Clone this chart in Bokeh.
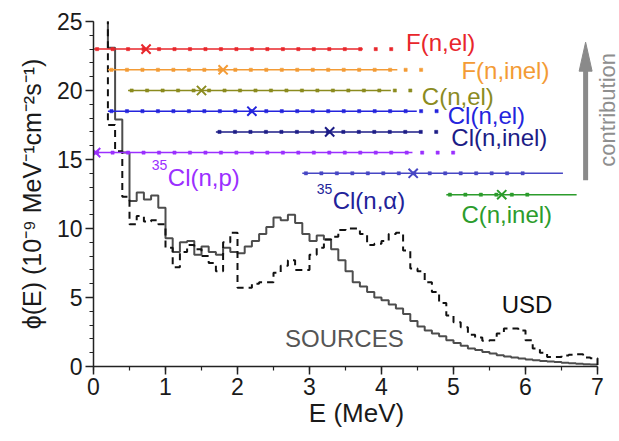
import numpy as np
from math import pi
from bokeh.plotting import figure
from bokeh.models import Range1d, Label, SingleIntervalTicker
from bokeh.embed import file_html
from bokeh.resources import INLINE

# ---------------- data ----------------
# histogram bins of 0.1 MeV, left edges 0.1 ... 6.9 (the 0.1-0.2 bin is off scale)
bin_low_edges = np.round(np.arange(0.1, 7.0, 0.1), 1)
bin_top_edge = 7.0

sources_flux = [30.0,
    23.1, 17.9, 15.5, 12.0, 12.6, 12.1, 12.4, 11.5,
    9.3, 8.3, 9.0, 9.1, 8.1, 8.7, 8.3, 8.1, 8.6, 8.3,
    8.2, 8.7, 9.1, 9.6, 10.1, 10.8, 10.6, 11.0, 10.4, 9.6,
    9.1, 9.5, 9.2, 8.5, 7.7, 6.9, 6.1, 5.8, 5.4, 5.0,
    4.8, 4.5, 4.2, 3.8, 3.3, 2.9, 2.6, 2.4, 2.2, 1.9,
    1.7, 1.5, 1.3, 1.2, 1.05, 0.95, 0.82, 0.72, 0.65, 0.58,
    0.5, 0.45, 0.4, 0.36, 0.32, 0.28, 0.24, 0.2, 0.17, 0.14]

usd_flux = [30.0,
    17.5, 15.6, 12.3, 10.3, 10.9, 10.5, 10.6, 10.3,
    8.6, 7.2, 8.3, 8.8, 8.5, 8.0, 7.5, 6.9, 9.0, 9.7,
    5.7, 5.7, 6.0, 6.1, 6.1, 6.8, 7.3, 7.7, 7.0, 7.0,
    8.1, 8.6, 9.2, 9.4, 9.9, 10.0, 10.0, 9.6, 8.8, 8.9,
    9.1, 9.6, 9.7, 8.4, 7.1, 6.9, 6.1, 5.4, 4.6, 3.7,
    3.2, 2.85, 2.3, 2.1, 1.86, 1.9, 2.4, 2.75, 2.75, 2.6,
    1.9, 1.3, 1.0, 0.68, 0.68, 0.8, 0.85, 0.88, 0.65, 0.6]
usd_end_value = 0.0

# reaction energy ranges (MeV): level, line start, line end, dotted end, mean energy
reaction_names  = ["F(n,el)", "F(n,inel)", "C(n,el)", "Cl(n,el)", "Cl(n,inel)",
                   "35Cl(n,p)", "35Cl(n,α)", "C(n,inel)"]
reaction_level  = [23.0, 21.5, 20.0, 18.5, 17.0, 15.5, 14.0, 12.45]
reaction_start  = [0.0, 0.2, 0.48, 0.2, 1.7, 0.0, 2.9, 4.9]
reaction_end    = [3.74, 4.22, 4.13, 4.49, 4.56, 4.43, 6.52, 6.71]
reaction_dotted = [4.24, 4.56, 4.42, 4.78, 4.78, 5.02, 5.97, 6.22]
reaction_mean   = [0.73, 1.8, 1.5, 2.2, 3.28, 0.03, 4.44, 5.67]

# ---------------- styles ----------------
reaction_colors = ["#e8262b", "#f39b35", "#8b8b1f", "#2424dd", "#1c1c86",
                   "#9b30ff", "#4747c4", "#2c9c2c"]
label_colors    = ["#e8262b", "#f39b35", "#8b8b1f", "#2424dd", "#1c1c86",
                   "#9b30ff", "#222299", "#2c9c2c"]
FONT = "Liberation Sans"

X_MAX = 7.0
X_VIEW_END = 7.0 + 22.0 / 72.0   # extra room at the right for the arrow annotation

p = figure(width=619, height=441, x_range=Range1d(0, X_VIEW_END), y_range=Range1d(0, 25),
           output_backend="svg", toolbar_location=None,
           min_border_left=93, min_border_right=0, min_border_top=21, min_border_bottom=75)
p.outline_line_color = None
p.xgrid.visible = False
p.ygrid.visible = False
p.background_fill_color = "white"

for ax in (p.xaxis[0], p.yaxis[0]):
    ax.axis_line_width = 1.5
    ax.axis_line_color = "#222222"
    ax.major_tick_line_color = "#222222"
    ax.minor_tick_line_color = "#222222"
    ax.major_tick_line_width = 1.5
    ax.minor_tick_line_width = 1.2
    ax.major_tick_in = 0
    ax.major_tick_out = 8
    ax.minor_tick_in = 0
    ax.minor_tick_out = 4
    ax.major_label_text_font = FONT
    ax.major_label_text_font_size = "23px"
    ax.major_label_text_color = "#1a1a1a"
    ax.axis_label_text_font = FONT
    ax.axis_label_text_font_style = "normal"
    ax.axis_label_text_color = "#1a1a1a"

p.xaxis.bounds = (0, X_MAX)
p.xaxis.ticker = SingleIntervalTicker(interval=1, num_minor_ticks=2)
p.yaxis.ticker = SingleIntervalTicker(interval=5, num_minor_ticks=5)
p.xaxis.axis_label = "E (MeV)"
p.xaxis.axis_label_text_font_size = "26px"
p.xaxis.axis_label_standoff = 0
p.xaxis.major_label_standoff = 3
p.yaxis.axis_label = "ϕ(E) (10⁻⁹ MeV⁻¹cm⁻²s⁻¹)"
p.yaxis.axis_label_text_font_size = "25px"
p.yaxis.axis_label_standoff = 8
p.yaxis.major_label_standoff = 3

# ---- spectra (histograms) ----
edges = list(bin_low_edges) + [bin_top_edge]
p.step(edges, sources_flux + [sources_flux[-1]], mode="after",
       line_color="#4d4d4d", line_width=2)
p.step(edges, usd_flux + [usd_end_value], mode="after",
       line_color="#111111", line_width=2, line_dash="7 5")

# ---- reaction energy ranges ----
DOT_STEP = 0.215
for i in range(len(reaction_names)):
    c = reaction_colors[i]
    lv = reaction_level[i]
    p.line([reaction_start[i], reaction_end[i]], [lv, lv], line_color=c, line_width=1.5)
    dx = np.arange(reaction_start[i] + 0.05, reaction_dotted[i] + 0.01, DOT_STEP)
    p.scatter(dx, [lv] * len(dx), marker="square", size=3.2, fill_color=c, line_color=c,
              line_width=0.5)
    p.scatter([reaction_mean[i]], [lv], marker="x", size=13, line_color=c, line_width=2)

# ---- reaction labels ----
label_pos = {  # left x (MeV), middle y
    "F(n,el)": (4.34, 23.5),
    "F(n,inel)": (5.11, 21.43),
    "C(n,el)": (4.56, 19.6),
    "Cl(n,el)": (4.92, 18.17),
    "Cl(n,inel)": (4.97, 16.6),
    "35Cl(n,p)": (0.81, 13.7),
    "35Cl(n,α)": (3.1, 12.0),
    "C(n,inel)": (5.11, 11.04),
}
for i, name in enumerate(reaction_names):
    x, y = label_pos[name]
    col = label_colors[i]
    if name.startswith("35"):
        p.add_layout(Label(x=x, y=y, y_offset=12, text="35", text_font=FONT,
                           text_font_size="14px", text_color=col,
                           text_align="left", text_baseline="middle"))
        p.add_layout(Label(x=x, y=y, x_offset=16, text=name[2:], text_font=FONT,
                           text_font_size="24px", text_color=col,
                           text_align="left", text_baseline="middle"))
    else:
        p.add_layout(Label(x=x, y=y, text=name, text_font=FONT, text_font_size="24px",
                           text_color=col, text_align="left", text_baseline="middle"))

p.add_layout(Label(x=2.66, y=2.0, text="SOURCES", text_font=FONT, text_font_size="24px",
                   text_color="#555555", text_align="left", text_baseline="middle"))
p.add_layout(Label(x=5.67, y=4.52, text="USD", text_font=FONT, text_font_size="24px",
                   text_color="#111111", text_align="left", text_baseline="middle"))

# ---- contribution arrow ----
ARROW_X, ARROW_Y0, ARROW_BASE, ARROW_TIP = 6.835, 13.5, 21.4, 23.5
ARROW_HALF_W = 0.09
p.segment(x0=[ARROW_X], y0=[ARROW_Y0], x1=[ARROW_X], y1=[ARROW_BASE + 0.2],
          line_color="#8a8a8a", line_width=5)
p.patch([ARROW_X - ARROW_HALF_W, ARROW_X, ARROW_X + ARROW_HALF_W],
        [ARROW_BASE, ARROW_TIP, ARROW_BASE], fill_color="#8a8a8a", line_color="#8a8a8a")
p.add_layout(Label(x=7.14, y=18.6, text="contribution", angle=pi / 2, text_font=FONT,
                   text_font_size="22px", text_color="#8e8e8e",
                   text_align="center", text_baseline="middle"))

open("out.html", "w").write(file_html(p, INLINE))
